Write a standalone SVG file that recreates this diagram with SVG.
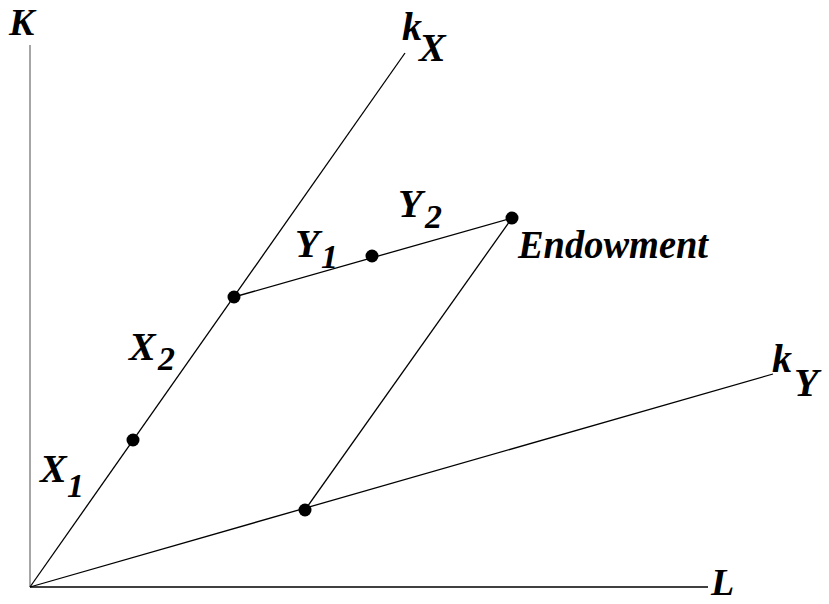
<svg xmlns="http://www.w3.org/2000/svg" width="829" height="604" viewBox="0 0 829 604">
<style>
.t{font-family:"Liberation Serif","Times New Roman",serif;font-style:italic;font-weight:bold;font-size:40px;fill:#000}
.s{font-size:34px}
.e{font-size:38px}
.ln{stroke:#000;stroke-width:1.3;fill:none}
.dot{fill:#000}
</style>
<rect width="829" height="604" fill="#fff"/>
<g id="axes">
<line x1="30" y1="45" x2="30" y2="587" stroke="#888" stroke-width="1.5"/>
<line x1="30" y1="587" x2="708" y2="587" stroke="#000" stroke-width="1.5"/>
<text class="t e" x="9" y="35">K</text>
<text class="t e" x="711" y="595">L</text>
</g>
<g id="connectors">
<line class="ln" x1="30" y1="587" x2="405" y2="53"/>
<line class="ln" x1="30" y1="587" x2="773" y2="374"/>
<line class="ln" x1="234" y1="297" x2="512" y2="218"/>
<line class="ln" x1="512" y1="218" x2="305" y2="510"/>
</g>
<g id="kX"><text class="t" x="402" y="40">k</text><text class="t" x="419" y="61">X</text></g>
<g id="kY"><text class="t" x="772" y="372">k</text><text class="t" x="794" y="396">Y</text></g>
<g id="p1"><circle class="dot" cx="133" cy="440" r="6.5"/></g>
<g id="p2"><circle class="dot" cx="234" cy="297" r="6.5"/></g>
<g id="p3"><circle class="dot" cx="372" cy="256" r="6.5"/></g>
<g id="endowment"><circle class="dot" cx="512" cy="218" r="6.5"/><text class="t" x="518" y="258" font-size="34" textLength="190" lengthAdjust="spacingAndGlyphs">Endowment</text></g>
<g id="p5"><circle class="dot" cx="305" cy="510" r="6.5"/></g>
<g id="labels">
<text class="t" x="40" y="482">X</text><text class="t s" x="67" y="497">1</text>
<text class="t" x="129" y="360">X</text><text class="t s" x="158" y="370">2</text>
<text class="t" x="295" y="257">Y</text><text class="t s" x="321" y="268">1</text>
<text class="t" x="398" y="217">Y</text><text class="t s" x="425" y="228">2</text>
</g>
</svg>
